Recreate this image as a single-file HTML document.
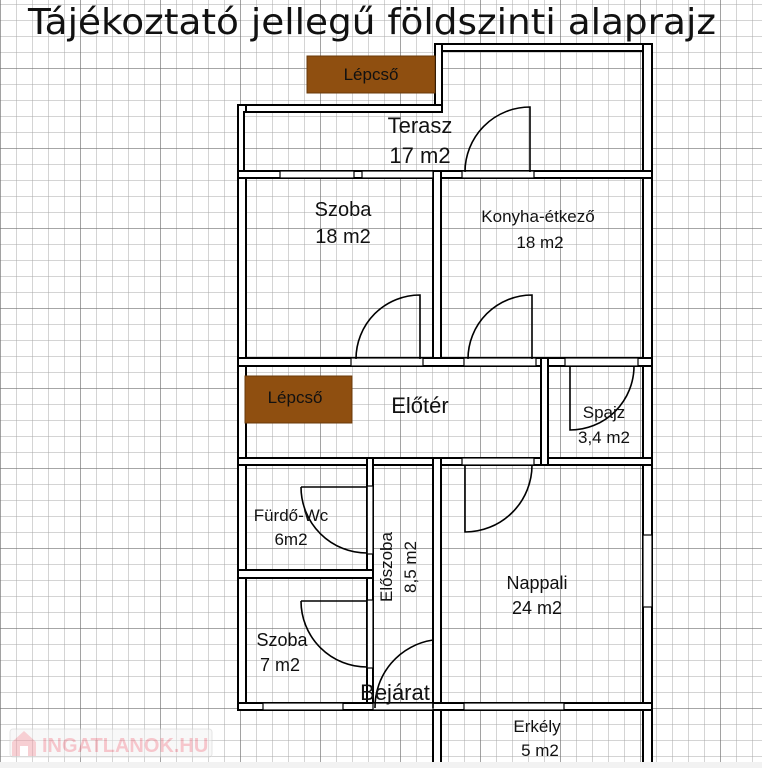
<!DOCTYPE html>
<html><head><meta charset="utf-8"><style>
html,body{margin:0;padding:0;background:#fff}
svg{display:block}
text{font-family:"Liberation Sans",sans-serif;fill:#111}
</style></head><body>
<svg width="762" height="768" viewBox="0 0 762 768" xmlns="http://www.w3.org/2000/svg">
<defs>
<pattern id="minor" x="0" y="4" width="16" height="16" patternUnits="userSpaceOnUse">
<path d="M0 0H16M0 0V16" stroke="#a8a8a8" stroke-width="1" fill="none"/>
</pattern>
<pattern id="major" x="0" y="68" width="80" height="80" patternUnits="userSpaceOnUse">
<path d="M0 0H80M0 0V80" stroke="#707070" stroke-width="1.3" fill="none"/>
</pattern>
</defs>
<rect width="762" height="768" fill="#fff"/>
<rect width="762" height="768" fill="url(#minor)"/>
<rect width="762" height="768" fill="url(#major)"/>

<text x="28" y="34" font-size="36" textLength="688" lengthAdjust="spacingAndGlyphs" style="font-family:'DejaVu Sans','Liberation Sans',sans-serif">Tájékoztató jellegű földszinti alaprajz</text>

<!-- walls -->
<g fill="#fff" stroke="#000" stroke-width="2">
<rect x="435" y="44" width="217" height="7"/>
<rect x="435" y="44" width="7" height="68"/>
<rect x="238" y="105" width="204" height="7"/>
<rect x="238" y="105" width="8" height="605"/>
<rect x="643" y="44" width="9" height="724"/>
<rect x="238" y="171" width="414" height="7"/>
<rect x="433" y="171" width="8" height="194"/>
<rect x="238" y="358" width="414" height="8"/>
<rect x="238" y="458" width="414" height="7"/>
<rect x="541" y="358" width="7" height="107"/>
<rect x="367" y="458" width="6" height="252"/>
<rect x="238" y="570" width="135" height="8"/>
<rect x="433" y="458" width="8" height="310"/>
<rect x="238" y="703" width="414" height="7"/>
</g>
<g fill="#fff">
<path d="M245 113H443V52H642V170H245Z"/>
<rect x="247" y="179" width="185" height="178"/>
<rect x="442" y="179" width="200" height="178"/>
<rect x="247" y="367" width="293" height="90"/>
<rect x="549" y="367" width="93" height="90"/>
<rect x="247" y="466" width="119" height="103"/>
<rect x="247" y="579" width="119" height="123"/>
<rect x="374" y="466" width="58" height="236"/>
<rect x="442" y="466" width="200" height="236"/>
<rect x="442" y="711" width="200" height="57"/>
</g>
<g>
<path d="M245 113H443V52H642V170H245Z" fill="url(#minor)"/>
<rect x="247" y="179" width="185" height="178" fill="url(#minor)"/>
<rect x="442" y="179" width="200" height="178" fill="url(#minor)"/>
<rect x="247" y="367" width="293" height="90" fill="url(#minor)"/>
<rect x="549" y="367" width="93" height="90" fill="url(#minor)"/>
<rect x="247" y="466" width="119" height="103" fill="url(#minor)"/>
<rect x="247" y="579" width="119" height="123" fill="url(#minor)"/>
<rect x="374" y="466" width="58" height="236" fill="url(#minor)"/>
<rect x="442" y="466" width="200" height="236" fill="url(#minor)"/>
<rect x="442" y="711" width="200" height="57" fill="url(#minor)"/>
<path d="M245 113H443V52H642V170H245Z" fill="url(#major)"/>
<rect x="247" y="179" width="185" height="178" fill="url(#major)"/>
<rect x="442" y="179" width="200" height="178" fill="url(#major)"/>
<rect x="247" y="367" width="293" height="90" fill="url(#major)"/>
<rect x="549" y="367" width="93" height="90" fill="url(#major)"/>
<rect x="247" y="466" width="119" height="103" fill="url(#major)"/>
<rect x="247" y="579" width="119" height="123" fill="url(#major)"/>
<rect x="374" y="466" width="58" height="236" fill="url(#major)"/>
<rect x="442" y="466" width="200" height="236" fill="url(#major)"/>
<rect x="442" y="711" width="200" height="57" fill="url(#major)"/>
</g>
<g fill="none" stroke="#000" stroke-width="2">
<path d="M244 171V112H442V51H643V171Z"/>
<rect x="246" y="178" width="187" height="180"/>
<rect x="441" y="178" width="202" height="180"/>
<rect x="246" y="366" width="295" height="92"/>
<rect x="548" y="366" width="95" height="92"/>
<rect x="246" y="465" width="121" height="105"/>
<rect x="246" y="578" width="121" height="125"/>
<rect x="373" y="465" width="60" height="238"/>
<rect x="441" y="465" width="202" height="238"/>
<path d="M441 710V768M643 710V768"/>
</g>

<g fill="#fff" stroke="#000" stroke-width="1.2">
<rect x="280" y="171" width="74" height="7"/>
<rect x="362" y="171" width="71" height="7"/>
<rect x="462" y="171" width="72" height="7"/>
<rect x="351" y="358" width="72" height="8"/>
<rect x="464" y="358" width="72" height="8"/>
<rect x="565" y="358" width="73" height="8"/>
<rect x="462" y="458" width="72" height="7"/>
<rect x="464" y="703" width="100" height="7"/>
<rect x="367" y="486" width="6" height="68"/>
<rect x="367" y="600" width="6" height="68"/>
<rect x="373" y="703" width="60" height="7"/>
<rect x="263" y="703" width="80" height="7"/>
<rect x="643" y="535" width="9" height="72"/>
</g>
<g fill="none" stroke="#000" stroke-width="1.6">
<path d="M530 172V107A65 65 0 0 0 465 172"/>
<path d="M420 359V295A64 64 0 0 0 356 359"/>
<path d="M532 359V295A64 64 0 0 0 468 359"/>
<path d="M570 366V430A64 64 0 0 0 634 366"/>
<path d="M465 465V532A67 67 0 0 0 532 465"/>
<path d="M301 487H367V553A66 66 0 0 1 301 487"/>
<path d="M301 601H367V667A66 66 0 0 1 301 601"/>
<path d="M433 708V640A68 68 0 0 0 375 708"/>
</g>

<rect x="307" y="56" width="128" height="37" fill="#8f4f10" stroke="#6a3a0a"/>
<text x="371" y="80" font-size="17" text-anchor="middle">Lépcső</text>
<rect x="245" y="376" width="107" height="47" fill="#8f4f10" stroke="#6a3a0a"/>
<text x="295" y="403" font-size="17" text-anchor="middle">Lépcső</text>

<g text-anchor="middle">
<text x="420" y="133" font-size="22">Terasz</text>
<text x="420" y="163" font-size="22">17 m2</text>
<text x="343" y="216" font-size="20">Szoba</text>
<text x="343" y="243" font-size="20">18 m2</text>
<text x="538" y="222" font-size="17">Konyha-étkező</text>
<text x="540" y="248" font-size="17">18 m2</text>
<text x="420" y="413" font-size="22">Előtér</text>
<text x="604" y="418" font-size="17">Spajz</text>
<text x="604" y="443" font-size="17">3,4 m2</text>
<text x="291" y="521" font-size="17">Fürdő-Wc</text>
<text x="291" y="545" font-size="17">6m2</text>
<text x="282" y="646" font-size="18">Szoba</text>
<text x="280" y="671" font-size="18">7 m2</text>
<text x="537" y="589" font-size="18">Nappali</text>
<text x="537" y="614" font-size="18">24 m2</text>
<text x="395" y="700" font-size="22">Bejárat</text>
<text x="537" y="732" font-size="17">Erkély</text>
<text x="540" y="756" font-size="17">5 m2</text>
<text transform="translate(392,567) rotate(-90)" font-size="17">Előszoba</text>
<text transform="translate(416,567) rotate(-90)" font-size="17">8,5 m2</text>
</g>

<g opacity="0.5">
<rect x="10" y="729" width="202" height="28" rx="3" fill="#f2f2f2" stroke="#ccc"/>
<path d="M12 742L24 731L36 742V756H12Z" fill="#f0a0a8"/>
<rect x="20" y="746" width="8" height="10" fill="#fff"/>
<text x="42" y="752" font-size="20" font-weight="bold" style="fill:#ee8f9a">INGATLANOK.HU</text>
</g>
<rect x="0" y="762" width="762" height="6" fill="#f2f2f2"/>
</svg>
</body></html>
